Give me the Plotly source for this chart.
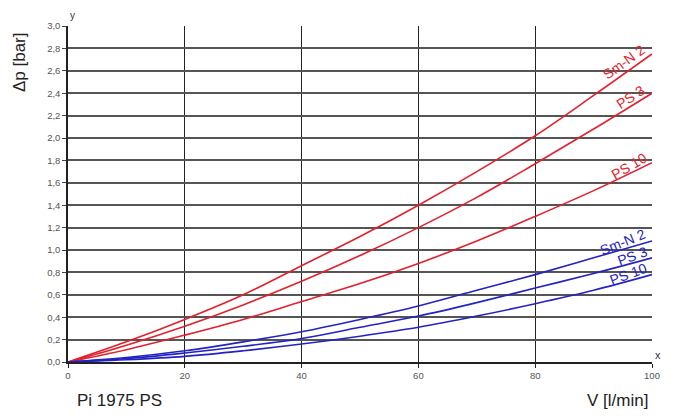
import plotly.graph_objects as go

flow = [0, 10, 20, 30, 40, 50, 60, 70, 80, 90, 100]
red_smn2 = [0, 0.18, 0.38, 0.60, 0.86, 1.12, 1.40, 1.70, 2.02, 2.38, 2.75]
red_ps3 = [0, 0.15, 0.32, 0.51, 0.72, 0.95, 1.20, 1.47, 1.77, 2.08, 2.40]
red_ps10 = [0, 0.11, 0.24, 0.38, 0.54, 0.70, 0.88, 1.08, 1.30, 1.53, 1.78]
blue_smn2 = [0, 0.04, 0.10, 0.18, 0.27, 0.38, 0.50, 0.64, 0.78, 0.93, 1.08]
blue_ps3 = [0, 0.03, 0.08, 0.14, 0.21, 0.31, 0.41, 0.53, 0.66, 0.79, 0.93]
blue_ps10 = [0, 0.02, 0.05, 0.10, 0.16, 0.23, 0.31, 0.41, 0.52, 0.64, 0.78]

y_ticks = [i * 0.2 for i in range(16)]
y_labels = [f"{v:.1f}".replace(".", ",") for v in y_ticks]
x_ticks = [0, 20, 40, 60, 80, 100]

RED = "#e3202b"
BLUE = "#2323c3"
FONT = "Liberation Sans, Arial"

fig = go.Figure()
for ys, col in [(red_smn2, RED), (red_ps3, RED), (red_ps10, RED),
                (blue_smn2, BLUE), (blue_ps3, BLUE), (blue_ps10, BLUE)]:
    fig.add_trace(go.Scatter(x=flow, y=ys, mode="lines", line=dict(color=col, width=1.6, shape="spline"),
                             showlegend=False, hoverinfo="skip"))

labels = [
    ("Sm-N 2", 95.2, 2.68, -36, RED),
    ("PS 3", 96.3, 2.37, -33, RED),
    ("PS 10", 96.1, 1.75, -30, RED),
    ("Sm-N 2", 95.0, 1.07, -22, BLUE),
    ("PS 3", 96.6, 0.95, -20, BLUE),
    ("PS 10", 95.9, 0.79, -20, BLUE),
]
for t, x, y, a, c in labels:
    fig.add_annotation(x=x, y=y, text=t, showarrow=False, textangle=a,
                       font=dict(family=FONT, size=14, color=c), xanchor="center", yanchor="middle")

gfont = dict(family=FONT, size=9.5, color="#555")
fig.update_xaxes(range=[0, 100], tickvals=x_ticks, ticktext=[str(v) for v in x_ticks], showgrid=True,
                 gridcolor="#222", gridwidth=1.3, showline=True, linecolor="#222", linewidth=1.5,
                 ticks="outside", ticklen=4, tickcolor="#222", tickfont=gfont, zeroline=False, fixedrange=True)
fig.update_yaxes(range=[0, 3.0], tickvals=y_ticks, ticktext=y_labels, showgrid=True,
                 gridcolor="#555", gridwidth=1.5, showline=True, linecolor="#222", linewidth=1.5,
                 ticks="outside", ticklen=4, tickcolor="#444", tickfont=gfont, zeroline=False, fixedrange=True)

fig.add_annotation(xref="paper", yref="paper", x=0.007, y=1.0, yshift=11, text="y", showarrow=False,
                   xanchor="center", yanchor="middle", font=dict(family=FONT, size=10, color="#333"))
fig.add_annotation(xref="paper", yref="paper", x=1.0, y=0.0, xshift=6, yshift=7, text="x", showarrow=False,
                   xanchor="center", yanchor="middle", font=dict(family=FONT, size=11, color="#333"))
fig.add_annotation(xref="paper", yref="paper", x=-0.082, y=0.893, text="Δp [bar]", textangle=-90, showarrow=False,
                   xanchor="center", yanchor="middle", font=dict(family=FONT, size=17, color="#222"))
fig.add_annotation(xref="paper", yref="paper", x=0.012, y=0, yshift=-38, xanchor="left", yanchor="middle",
                   text="Pi 1975 PS", showarrow=False, font=dict(family=FONT, size=17, color="#222"))
fig.add_annotation(xref="paper", yref="paper", x=0.997, y=0, yshift=-38, xanchor="right", yanchor="middle",
                   text="V [l/min]", showarrow=False, font=dict(family=FONT, size=17, color="#222"))

fig.update_layout(width=679, height=416, margin=dict(l=60, r=35, t=16, b=62),
                  paper_bgcolor="white", plot_bgcolor="white")
fig.write_html("out.html")
